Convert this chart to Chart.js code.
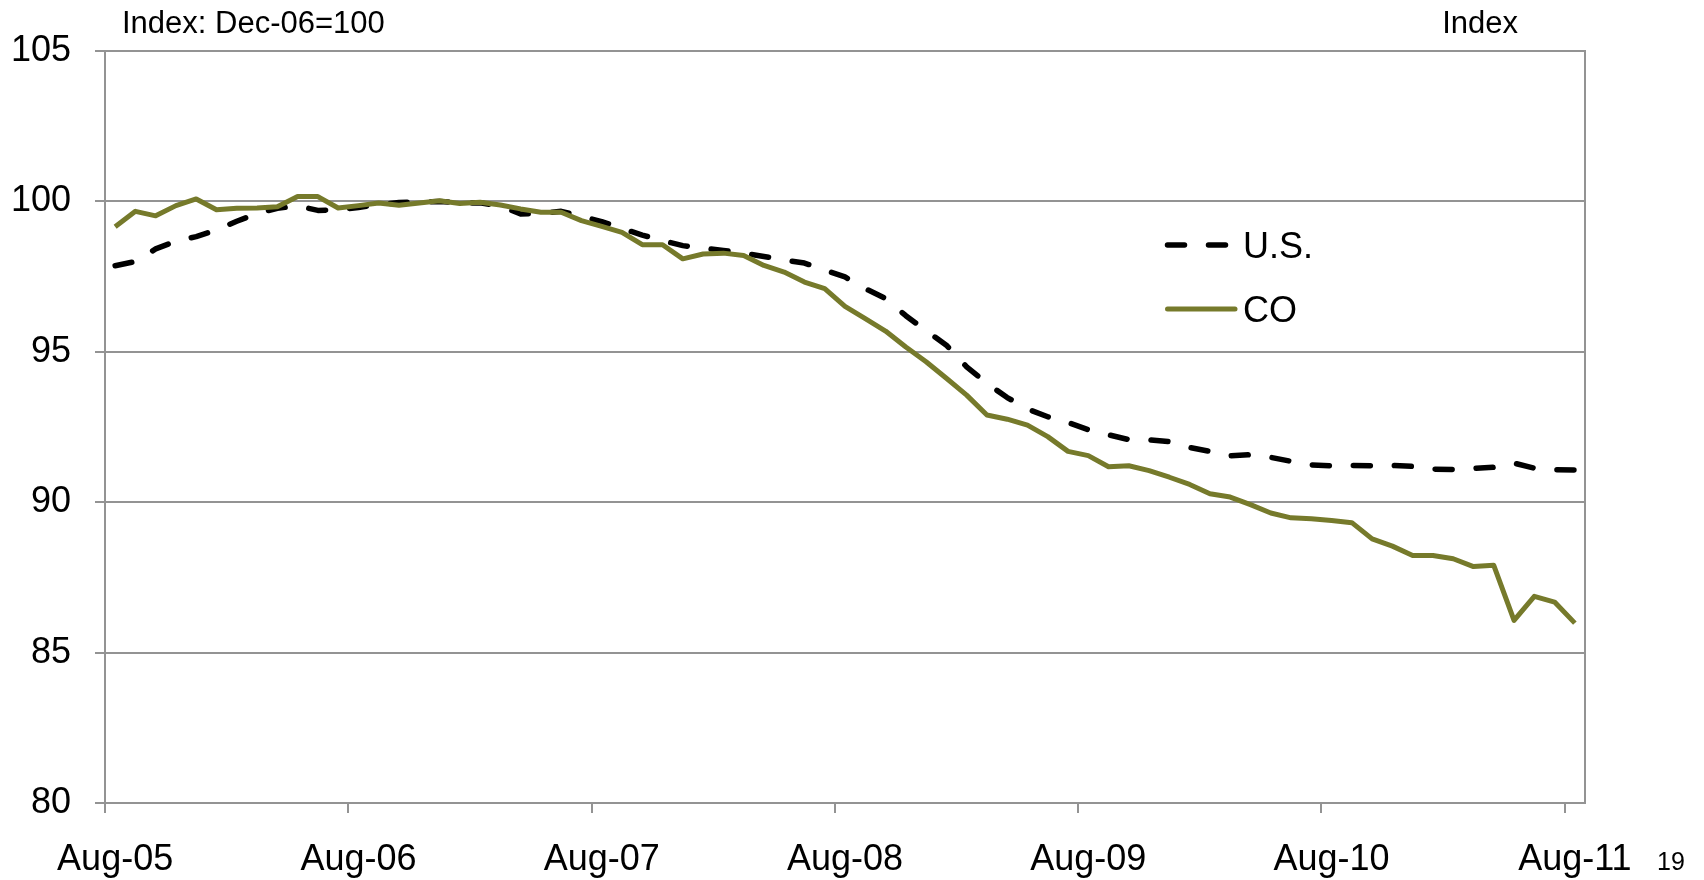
<!DOCTYPE html>
<html>
<head>
<meta charset="utf-8">
<script src="https://cdn.jsdelivr.net/npm/chart.js@4.4.1/dist/chart.umd.min.js"></script>
<style>
  html, body { margin: 0; padding: 0; background: #fff; }
  #wrap { width: 1704px; height: 880px; }
</style>
</head>
<body>
<div id="wrap"><canvas id="chart" width="1704" height="880"></canvas></div>
<script>
// monthly house price index, Dec-06 = 100
const months = [
  'Aug-05', 'Sep-05', 'Oct-05', 'Nov-05', 'Dec-05',
  'Jan-06', 'Feb-06', 'Mar-06', 'Apr-06', 'May-06', 'Jun-06', 'Jul-06', 'Aug-06', 'Sep-06', 'Oct-06', 'Nov-06', 'Dec-06',
  'Jan-07', 'Feb-07', 'Mar-07', 'Apr-07', 'May-07', 'Jun-07', 'Jul-07', 'Aug-07', 'Sep-07', 'Oct-07', 'Nov-07', 'Dec-07',
  'Jan-08', 'Feb-08', 'Mar-08', 'Apr-08', 'May-08', 'Jun-08', 'Jul-08', 'Aug-08', 'Sep-08', 'Oct-08', 'Nov-08', 'Dec-08',
  'Jan-09', 'Feb-09', 'Mar-09', 'Apr-09', 'May-09', 'Jun-09', 'Jul-09', 'Aug-09', 'Sep-09', 'Oct-09', 'Nov-09', 'Dec-09',
  'Jan-10', 'Feb-10', 'Mar-10', 'Apr-10', 'May-10', 'Jun-10', 'Jul-10', 'Aug-10', 'Sep-10', 'Oct-10', 'Nov-10', 'Dec-10',
  'Jan-11', 'Feb-11', 'Mar-11', 'Apr-11', 'May-11', 'Jun-11', 'Jul-11', 'Aug-11'
];

const usIndex = [
  97.86, 98.00, 98.42, 98.68, 98.83, 99.05, 99.34, 99.60, 99.77, 99.85, 99.70, 99.72,
  99.80, 99.90, 99.96, 99.98, 100.00, 99.95, 99.95, 99.85, 99.58, 99.60, 99.67, 99.50,
  99.33, 99.10, 98.88, 98.70, 98.53, 98.45, 98.37, 98.28, 98.17, 98.05, 97.95, 97.72,
  97.49, 97.10, 96.77, 96.20, 95.70, 95.22, 94.50, 93.95, 93.48, 93.10, 92.84, 92.65,
  92.41, 92.24, 92.08, 92.07, 92.01, 91.82, 91.69, 91.54, 91.58, 91.49, 91.36, 91.24,
  91.21, 91.22, 91.21, 91.22, 91.19, 91.10, 91.09, 91.12, 91.16, 91.30, 91.13, 91.08,
  91.07
];

const coIndex = [
  99.16, 99.67, 99.52, 99.86, 100.08, 99.72, 99.77, 99.78, 99.82, 100.16, 100.16, 99.78,
  99.86, 99.95, 99.87, 99.95, 100.02, 99.93, 99.97, 99.88, 99.75, 99.64, 99.64, 99.36,
  99.17, 98.97, 98.56, 98.56, 98.09, 98.25, 98.28, 98.20, 97.87, 97.65, 97.32, 97.10,
  96.51, 96.10, 95.69, 95.16, 94.67, 94.12, 93.56, 92.90, 92.76, 92.56, 92.18, 91.69,
  91.55, 91.18, 91.21, 91.05, 90.83, 90.59, 90.28, 90.17, 89.92, 89.64, 89.48, 89.45,
  89.39, 89.32, 88.78, 88.54, 88.23, 88.23, 88.12, 87.86, 87.90, 86.07, 86.87, 86.68,
  85.98
];

const FONT = "'Liberation Sans', Arial, sans-serif";
const gridColor = '#939393';
const olive = '#767a2b';
const usDash = [17, 24];

// titles, page number, right border and legend
const extras = {
  id: 'extras',
  beforeDatasetsDraw(chart) {
    const c = chart.ctx, a = chart.chartArea;
    c.save();
    c.strokeStyle = gridColor;
    c.lineWidth = 2;
    c.beginPath();
    c.moveTo(a.right, a.top - 1);
    c.lineTo(a.right, a.bottom);
    c.stroke();
    c.restore();
  },
  afterDraw(chart) {
    const c = chart.ctx;
    c.save();
    c.fillStyle = '#000';
    c.textBaseline = 'alphabetic';

    c.font = '31px ' + FONT;
    c.textAlign = 'left';
    c.fillText('Index: Dec-06=100', 122, 33);
    c.textAlign = 'right';
    c.fillText('Index', 1518, 33);

    c.font = '25px ' + FONT;
    c.textAlign = 'left';
    c.fillText('19', 1657, 870);

    // legend
    c.lineCap = 'round';
    c.strokeStyle = '#000';
    c.lineWidth = 5.5;
    c.setLineDash(usDash);
    c.beginPath();
    c.moveTo(1167.5, 245);
    c.lineTo(1226, 245);
    c.stroke();
    c.setLineDash([]);
    c.strokeStyle = olive;
    c.lineWidth = 5;
    c.beginPath();
    c.moveTo(1167.5, 309);
    c.lineTo(1235, 309);
    c.stroke();

    c.font = '36px ' + FONT;
    c.textAlign = 'left';
    c.fillText('U.S.', 1243, 258);
    c.fillText('CO', 1243, 322);
    c.restore();
  }
};

const data = {
  labels: months,
  datasets: [
    {
      label: 'U.S.',
      data: usIndex,
      borderColor: '#000',
      borderWidth: 5.5,
      borderDash: usDash,
      borderCapStyle: 'round',
      borderJoinStyle: 'round',
      pointRadius: 0,
      tension: 0,
      order: 2
    },
    {
      label: 'CO',
      data: coIndex,
      borderColor: olive,
      borderWidth: 5,
      borderJoinStyle: 'round',
      pointRadius: 0,
      tension: 0,
      order: 1
    }
  ]
};

const config = {
  type: 'line',
  data: data,
  options: {
    responsive: false,
    animation: false,
    layout: { padding: { top: 51, right: 119, left: 0, bottom: 0 } },
    plugins: {
      legend: { display: false },
      tooltip: { enabled: false }
    },
    scales: {
      x: {
        type: 'category',
        offset: true,
        grid: {
          offset: true,
          drawOnChartArea: false,
          drawTicks: true,
          tickLength: 10,
          lineWidth: 2,
          color: (ctx) => (ctx.index % 12 === 0 ? gridColor : 'rgba(0,0,0,0)')
        },
        border: { color: gridColor, width: 2 },
        ticks: {
          autoSkip: false,
          maxRotation: 0,
          minRotation: 0,
          padding: 25,
          color: '#000',
          font: { family: FONT, size: 36 },
          callback: function (value, index) {
            return index % 12 === 0 ? months[index] : '';
          }
        },
        afterFit: (scale) => {
          scale.height = 77;
          scale.paddingLeft = 0;
          scale.paddingRight = 0;
        }
      },
      y: {
        min: 80,
        max: 105,
        grid: {
          color: gridColor,
          lineWidth: 2,
          tickLength: 10
        },
        border: { color: gridColor, width: 2 },
        ticks: {
          stepSize: 5,
          padding: 24,
          color: '#000',
          font: { family: FONT, size: 36 }
        },
        afterFit: (scale) => {
          scale.width = 105;
          scale.paddingTop = 0;
          scale.paddingBottom = 0;
        }
      }
    }
  },
  plugins: [extras]
};

const chart = new Chart(document.getElementById('chart'), config);
</script>
</body>
</html>
